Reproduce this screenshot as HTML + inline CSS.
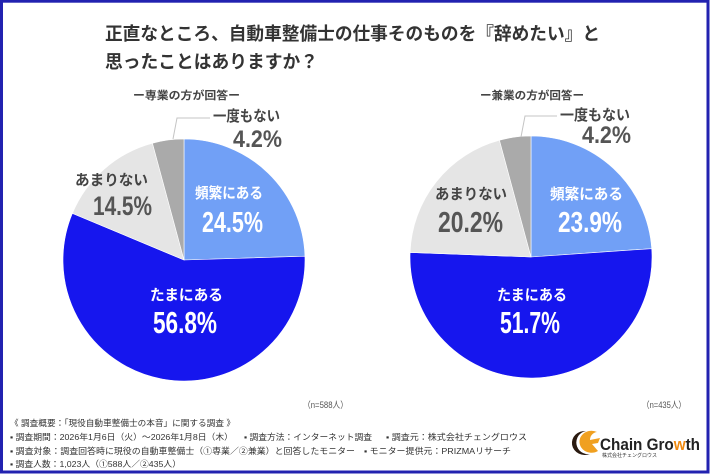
<!DOCTYPE html>
<html><head><meta charset="utf-8">
<style>
html,body{margin:0;padding:0;background:#fff;}
svg{display:block;}
text{font-family:"Liberation Sans","Noto Sans CJK JP",sans-serif;}
.j{font-family:"Liberation Sans","Noto Sans CJK JP",sans-serif;font-weight:bold;}
</style></head>
<body>
<svg width="710" height="474" viewBox="0 0 710 474" xmlns="http://www.w3.org/2000/svg">
<rect x="0" y="0" width="710" height="474" fill="#fff"/>
<rect x="1.5" y="1.2" width="706.5" height="470.8" fill="none" stroke="#2222b0" stroke-width="3"/>

<!-- Title -->
<text class="j" x="105" y="40" font-size="18" fill="#333" textLength="495" lengthAdjust="spacingAndGlyphs">正直なところ、自動車整備士の仕事そのものを『辞めたい』と</text>
<text class="j" x="105" y="68" font-size="18" fill="#333" textLength="213" lengthAdjust="spacingAndGlyphs">思ったことはありますか？</text>

<text class="j" x="133" y="99" font-size="11" fill="#444" textLength="107" lengthAdjust="spacingAndGlyphs">ー専業の方が回答ー</text>
<text class="j" x="480" y="99" font-size="11" fill="#444" textLength="104" lengthAdjust="spacingAndGlyphs">ー兼業の方が回答ー</text>

<!-- Left pie -->
<g stroke="#fff" stroke-width="0.6">
<path d="M184,260 L184,139 A121,121 0 0 1 304.94,256.20 Z" fill="#71a0f6"/>
<path d="M184,260 L304.94,256.20 A121,121 0 1 1 72.36,213.35 Z" fill="#1616ee"/>
<path d="M184,260 L72.36,213.35 A121,121 0 0 1 152.44,143.19 Z" fill="#e5e5e5"/>
<path d="M184,260 L152.44,143.19 A121,121 0 0 1 184,139 Z" fill="#aaaaaa"/>
</g>
<polyline points="173,139 177,118 210,118" fill="none" stroke="#c4c4c4" stroke-width="1"/>

<text class="j" x="213" y="121" font-size="15" fill="#444" textLength="67" lengthAdjust="spacingAndGlyphs">一度もない</text>
<text class="j" x="233" y="147" font-size="24" fill="#555" textLength="49" lengthAdjust="spacingAndGlyphs">4.2%</text>
<text class="j" x="75" y="185" font-size="15" fill="#444" textLength="73" lengthAdjust="spacingAndGlyphs">あまりない</text>
<text class="j" x="93" y="215" font-size="27" fill="#555" textLength="59" lengthAdjust="spacingAndGlyphs">14.5%</text>
<text class="j" x="195" y="198" font-size="15" fill="#fff" textLength="68" lengthAdjust="spacingAndGlyphs">頻繁にある</text>
<text class="j" x="202" y="232" font-size="29" fill="#fff" textLength="61" lengthAdjust="spacingAndGlyphs">24.5%</text>
<text class="j" x="150" y="300" font-size="15" fill="#fff" textLength="73" lengthAdjust="spacingAndGlyphs">たまにある</text>
<text class="j" x="153" y="333" font-size="31" fill="#fff" textLength="64" lengthAdjust="spacingAndGlyphs">56.8%</text>

<!-- Right pie -->
<g stroke="#fff" stroke-width="0.6">
<path d="M531,257 L531,136 A121,121 0 0 1 651.71,248.64 Z" fill="#71a0f6"/>
<path d="M531,257 L651.71,248.64 A121,121 0 1 1 410.09,252.44 Z" fill="#1616ee"/>
<path d="M531,257 L410.09,252.44 A121,121 0 0 1 499.44,140.19 Z" fill="#e5e5e5"/>
<path d="M531,257 L499.44,140.19 A121,121 0 0 1 531,136 Z" fill="#aaaaaa"/>
</g>
<polyline points="521,137 525,116 557,116" fill="none" stroke="#c4c4c4" stroke-width="1"/>

<text class="j" x="560" y="120" font-size="15" fill="#444" textLength="70" lengthAdjust="spacingAndGlyphs">一度もない</text>
<text class="j" x="582" y="143" font-size="24" fill="#555" textLength="49" lengthAdjust="spacingAndGlyphs">4.2%</text>
<text class="j" x="435" y="199" font-size="15" fill="#444" textLength="72" lengthAdjust="spacingAndGlyphs">あまりない</text>
<text class="j" x="438" y="232" font-size="29" fill="#555" textLength="65" lengthAdjust="spacingAndGlyphs">20.2%</text>
<text class="j" x="550" y="199" font-size="15" fill="#fff" textLength="73" lengthAdjust="spacingAndGlyphs">頻繁にある</text>
<text class="j" x="558" y="232" font-size="29" fill="#fff" textLength="64" lengthAdjust="spacingAndGlyphs">23.9%</text>
<text class="j" x="497" y="300" font-size="15" fill="#fff" textLength="70" lengthAdjust="spacingAndGlyphs">たまにある</text>
<text class="j" x="500" y="333" font-size="31" fill="#fff" textLength="60" lengthAdjust="spacingAndGlyphs">51.7%</text>

<!-- n labels -->
<text x="303" y="408" font-size="9" fill="#555" textLength="45" lengthAdjust="spacingAndGlyphs">（n=588人）</text>
<text x="642" y="408" font-size="9" fill="#555" textLength="44" lengthAdjust="spacingAndGlyphs">（n=435人）</text>

<!-- Footer -->
<g font-size="8.5" fill="#333">
<text x="10" y="426" textLength="225" lengthAdjust="spacingAndGlyphs">《 調査概要：「現役自動車整備士の本音」に関する調査 》</text>
<text x="10" y="440" textLength="223" lengthAdjust="spacingAndGlyphs">▪ 調査期間：2026年1月6日（火）～2026年1月8日（木）</text>
<text x="244" y="440" textLength="128" lengthAdjust="spacingAndGlyphs">▪ 調査方法：インターネット調査</text>
<text x="386" y="440" textLength="141" lengthAdjust="spacingAndGlyphs">▪ 調査元：株式会社チェングロウス</text>
<text x="10" y="454" textLength="345" lengthAdjust="spacingAndGlyphs">▪ 調査対象：調査回答時に現役の自動車整備士（①専業／②兼業）と回答したモニター</text>
<text x="364" y="454" textLength="147" lengthAdjust="spacingAndGlyphs">▪ モニター提供元：PRIZMAリサーチ</text>
<text x="10" y="467" textLength="171" lengthAdjust="spacingAndGlyphs">▪ 調査人数：1,023人（①588人／②435人）</text>
</g>

<!-- Logo -->
<g>
<path d="M586,431 A13,12 0 1 0 590,454 A10,10 0 1 1 586,431 Z" fill="#2a1a10"/>
<path d="M597,432 A12,11 0 1 0 598,451 L592,444 L598,443 L600,438 L590,440 A8,8 0 0 1 597,432 Z" fill="#f0a020"/>
<text x="600" y="450" font-size="17" font-weight="bold" fill="#222" textLength="100" lengthAdjust="spacingAndGlyphs">Chain Gro<tspan fill="#f08a10">w</tspan>th</text>
<text x="602" y="457" font-size="5" fill="#333" textLength="55" lengthAdjust="spacingAndGlyphs">株式会社チェングロウス</text>
</g>
</svg>
</body></html>
